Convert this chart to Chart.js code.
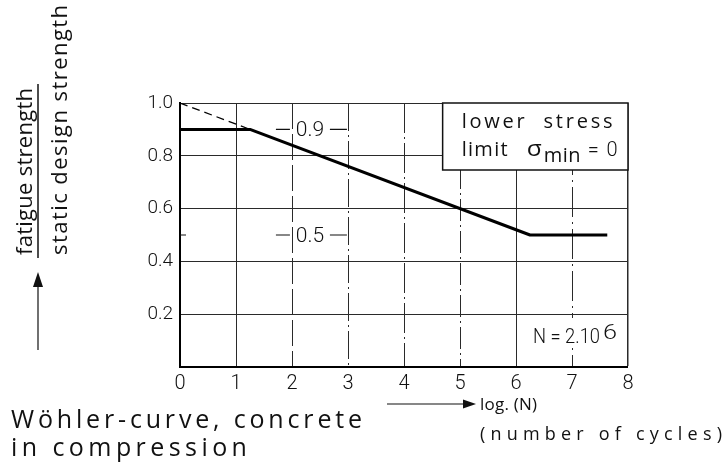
<!DOCTYPE html>
<html><head><meta charset="utf-8">
<script src="https://cdn.jsdelivr.net/npm/chart.js@4"></script>
<style>html,body{margin:0;padding:0;background:#fff;}#wrap{width:724px;height:471px;position:relative}</style>
</head><body><div id="wrap"><canvas id="c" width="724" height="471"></canvas></div>
<script>
// ---- data ----
const xTicks = [0, 1, 2, 3, 4, 5, 6, 7, 8];
const yTicks = [0, 0.2, 0.4, 0.6, 0.8, 1.0];
const curveX = [0, 1.25, 6.25, 7.63];
const curveY = [0.9, 0.9, 0.5, 0.5];
const extensionX = [0, 1.25];
const extensionY = [1.0, 0.9];
const levelLabels = ['0.9', '0.5'];
const levelValues = [0.9, 0.5];
const levelLabelX = 2.32;
const yTitleTop = 'fatigue strength';
const yTitleBottom = 'static design strength';
const xTitle = 'log. (N)';
const xSubTitle = '(number of cycles)';
const captionLines = ['Wöhler-curve, concrete', 'in compression'];
const boxLine1 = 'lower  stress';
const noteN = 'N = 2.10';
const noteExp = '6';

const FONT = "'Roboto', 'DejaVu Sans', sans-serif";
const TFONT = "'Open Sans', 'DejaVu Sans', sans-serif";
const INK = '#111';

// draw text so it spans width w: spread letters (or squeeze if too wide)
function fitText(ctx, text, x, y, w, font) {
  ctx.save();
  ctx.font = font;
  ctx.textAlign = 'left';
  if ('letterSpacing' in ctx) ctx.letterSpacing = '0px';
  const m = ctx.measureText(text).width;
  ctx.translate(x, y);
  if (m < w && 'letterSpacing' in ctx && text.length > 1) {
    ctx.letterSpacing = ((w - m) / (text.length - 1)).toFixed(2) + 'px';
    ctx.fillText(text, 0, 0);
  } else {
    ctx.scale(w / m, 1);
    ctx.fillText(text, 0, 0);
  }
  ctx.restore();
}

const xDash = {1: [], 2: [26, 5], 3: [28, 4, 2, 4], 4: [30, 4, 2, 4], 5: [22, 4, 2, 4], 6: [], 7: [30, 5, 2, 5], 8: []};

const annot = {
  id: 'annot',
  afterDatasetsDraw(chart) {
    const ctx = chart.ctx;
    const xs = chart.scales.x, ys = chart.scales.y;
    ctx.save();
    ctx.fillStyle = INK;
    ctx.strokeStyle = INK;
    ctx.textBaseline = 'alphabetic';

    // small inside tick at 0.5
    ctx.lineWidth = 1;
    const y05 = ys.getPixelForValue(0.5);
    ctx.beginPath(); ctx.moveTo(xs.left, y05); ctx.lineTo(xs.left + 6, y05); ctx.stroke();

    // level labels  — 0.9 —
    levelLabels.forEach((t, i) => {
      const cx = xs.getPixelForValue(levelLabelX);
      const cy = ys.getPixelForValue(levelValues[i]);
      ctx.font = "300 21px " + FONT;
      ctx.textAlign = 'center';
      ctx.fillText(t, cx, cy + 7);
      ctx.lineWidth = 1.2;
      ctx.beginPath();
      ctx.moveTo(cx - 34, cy); ctx.lineTo(cx - 20, cy);
      ctx.moveTo(cx + 20, cy); ctx.lineTo(cx + 37, cy);
      ctx.stroke();
    });

    // box
    const bx = xs.getPixelForValue(4.69), by = ys.top, bw = xs.right - bx, bh = 67;
    ctx.fillStyle = '#fff';
    ctx.fillRect(bx, by, bw, bh);
    ctx.lineWidth = 1.5;
    ctx.strokeRect(bx, by, bw, bh);
    ctx.fillStyle = INK;
    fitText(ctx, boxLine1, bx + 19, by + 25, 151, "20px " + TFONT);
    fitText(ctx, 'limit', bx + 19, by + 53, 46, "20px " + TFONT);
    fitText(ctx, 'σ', bx + 84, by + 53, 15, "21px " + TFONT);
    fitText(ctx, 'min', bx + 101, by + 59, 37, "20px " + TFONT);
    fitText(ctx, '= 0', bx + 145, by + 53, 30, "300 20px " + FONT);

    // N note
    ctx.fillStyle = '#fff';
    ctx.fillRect(528, 318, 97, 30);
    ctx.fillStyle = INK;
    fitText(ctx, noteN, 533, 343, 67, "300 20px " + FONT);
    fitText(ctx, noteExp, 603, 339, 14, "300 20px " + FONT);

    // y title (rotated)
    ctx.save();
    ctx.translate(32, 255); ctx.rotate(-Math.PI / 2);
    fitText(ctx, yTitleTop, 0, 0, 167, "22px " + TFONT);
    ctx.restore();
    ctx.save();
    ctx.translate(67, 255); ctx.rotate(-Math.PI / 2);
    fitText(ctx, yTitleBottom, 0, 0, 250, "22px " + TFONT);
    ctx.restore();
    // fraction bar
    ctx.lineWidth = 1.5;
    ctx.beginPath(); ctx.moveTo(38, 84); ctx.lineTo(38, 258); ctx.stroke();
    // up arrow
    ctx.lineWidth = 1.2;
    ctx.beginPath(); ctx.moveTo(38, 286); ctx.lineTo(38, 350); ctx.stroke();
    ctx.beginPath(); ctx.moveTo(38, 272); ctx.lineTo(33, 287); ctx.lineTo(43, 287); ctx.closePath(); ctx.fill();

    // x title arrow + text
    ctx.lineWidth = 1.2;
    ctx.beginPath(); ctx.moveTo(387, 404); ctx.lineTo(464, 404); ctx.stroke();
    ctx.beginPath(); ctx.moveTo(476, 404); ctx.lineTo(463, 399.5); ctx.lineTo(463, 408.5); ctx.closePath(); ctx.fill();
    fitText(ctx, xTitle, 480, 410, 57, "17px " + TFONT);
    fitText(ctx, xSubTitle, 480, 440, 242, "18px " + TFONT);

    // caption
    fitText(ctx, captionLines[0], 11, 428, 351, "25px " + TFONT);
    fitText(ctx, captionLines[1], 11, 456, 236, "25px " + TFONT);
    ctx.restore();
  }
};

new Chart(document.getElementById('c'), {
  type: 'line',
  data: {
    datasets: [
      {
        data: curveX.map((x, i) => ({x: x, y: curveY[i]})),
        borderColor: '#000', borderWidth: 3, pointRadius: 0, tension: 0, fill: false,
        borderJoinStyle: 'round', borderCapStyle: 'butt'
      },
      {
        data: extensionX.map((x, i) => ({x: x, y: extensionY[i]})),
        borderColor: '#000', borderWidth: 1.3, borderDash: [8, 5], pointRadius: 0, tension: 0, fill: false
      }
    ]
  },
  options: {
    responsive: false,
    devicePixelRatio: 1,
    animation: false,
    layout: {padding: {left: 120, top: 103, right: 96, bottom: 70}},
    plugins: {legend: {display: false}, tooltip: {enabled: false}},
    scales: {
      x: {
        type: 'linear', min: 0, max: 8,
        afterBuildTicks: s => { s.ticks = xTicks.map(v => ({value: v})); },
        afterFit: s => { s.height = 34; },
        ticks: {font: {family: FONT, size: 20, weight: '300'}, color: INK, padding: 5, callback: v => String(v)},
        grid: {
          drawTicks: false,
          color: '#2a2a2a',
          lineWidth: c => (c.tick && c.tick.value === 0) ? 0 : (c.tick && c.tick.value === 8 ? 1.5 : 1)
        },
        border: {display: true, width: 2, color: '#000', dash: c => (c.tick ? (xDash[c.tick.value] || []) : [])}
      },
      y: {
        type: 'linear', min: 0, max: 1,
        afterBuildTicks: s => { s.ticks = yTicks.map(v => ({value: v})); },
        afterFit: s => { s.width = 60; },
        ticks: {font: {family: FONT, size: 19, weight: '300'}, color: INK, padding: 7, callback: v => v === 0 ? '' : v.toFixed(1)},
        grid: {
          drawTicks: false,
          color: '#2a2a2a',
          lineWidth: c => (c.tick && c.tick.value === 0) ? 0 : 1
        },
        border: {display: true, width: 2, color: '#000'}
      }
    }
  },
  plugins: [annot]
});
</script>
</body></html>
